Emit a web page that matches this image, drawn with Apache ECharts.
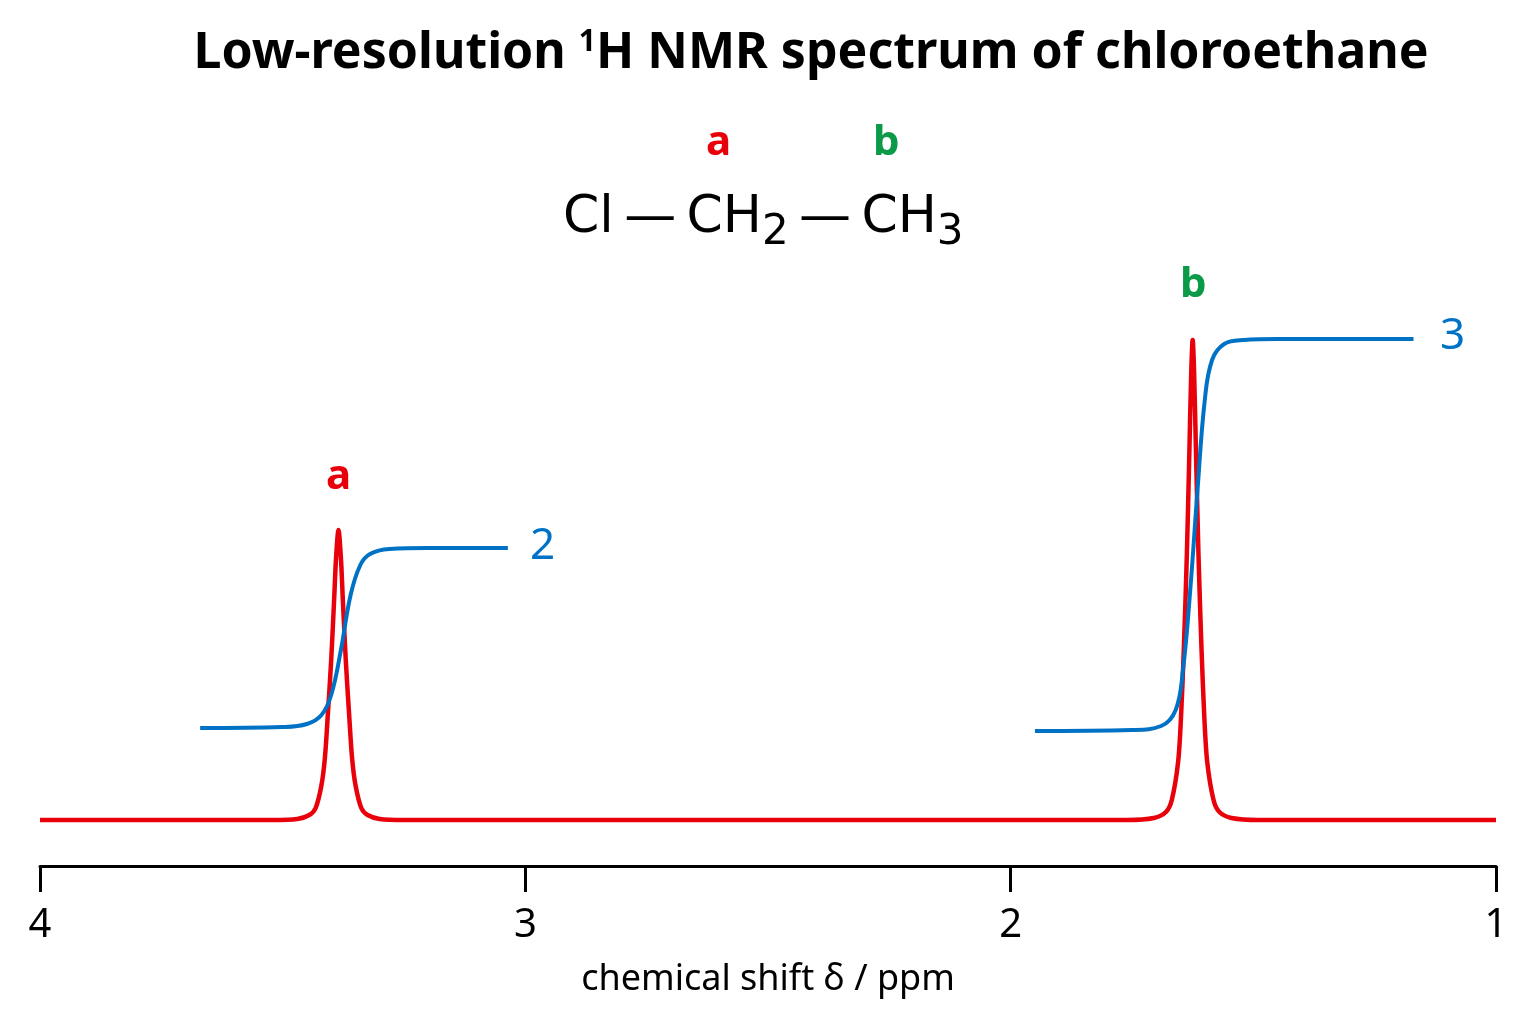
<!DOCTYPE html>
<html><head><meta charset="utf-8">
<script src="https://cdn.jsdelivr.net/npm/echarts@6/dist/echarts.min.js"></script>
<style>html,body{margin:0;padding:0;background:#fff}#c{width:1536px;height:1024px}</style>
</head><body><div id="c"></div>
<script>
// spectrum points: [ppm, intensity]
const spectrum = [
 [4.0,0],[3.52,0],[3.47,1],[3.445,5],[3.432,12],[3.42,35],[3.413,62],[3.407,105],[3.40,160],[3.394,220],[3.39,262],[3.385,290],
 [3.38,262],[3.376,220],[3.37,160],[3.363,105],[3.357,62],[3.35,35],[3.338,12],[3.325,5],[3.30,1],[3.25,0],
 [1.76,0],[1.705,2],[1.68,8],[1.668,20],[1.655,58],[1.649,103],[1.643,174],[1.637,265],[1.632,364],[1.628,447],[1.625,480],
 [1.622,447],[1.618,364],[1.613,265],[1.607,174],[1.601,103],[1.595,58],[1.582,20],[1.57,8],[1.545,2],[1.49,0],[1.0,0]
];
const integralA = [[3.67,92],[3.50,93],[3.45,96],[3.42,105],[3.40,125],[3.38,170],[3.36,225],[3.34,255],[3.32,266],[3.28,271],[3.20,272],[3.036,272]];
const integralB = [[1.95,89],[1.75,90],[1.69,94],[1.66,110],[1.645,150],[1.63,230],[1.615,330],[1.60,420],[1.585,460],[1.56,476],[1.52,480],[1.45,481],[1.17,481]];
const xTicks = [1,2,3,4];
const chart = echarts.init(document.getElementById('c'));
const F = '"Noto Sans", sans-serif';
const D = '"DejaVu Sans", sans-serif';
chart.setOption({
  animation:false,
  title:{text:'Low-resolution {sup|1}H NMR spectrum of chloroethane',left:806,textAlign:'center',top:22,
    textStyle:{fontFamily:F,fontSize:50,fontWeight:'bold',color:'#000',rich:{sup:{fontFamily:F,fontSize:30,fontWeight:'bold',verticalAlign:'top',padding:[0,0,24,0]}}}},
  grid:{left:40,right:40,top:100,bottom:158},
  xAxis:{type:'value',inverse:true,min:1,max:4,interval:1,
    axisLine:{onZero:false,lineStyle:{color:'#000',width:3}},axisTick:{length:26,lineStyle:{color:'#000',width:3}},
    axisLabel:{fontFamily:F,fontSize:40,color:'#000',margin:40,formatter:v=>xTicks.includes(v)?String(v):''},
    splitLine:{show:false},
    name:'chemical shift δ / ppm',nameLocation:'middle',nameGap:96,nameTextStyle:{fontFamily:F,fontSize:36,color:'#000'}},
  yAxis:{type:'value',min:-46,max:720,show:false},
  series:[
    {type:'line',data:spectrum,symbol:'none',smooth:0.3,lineStyle:{color:'#e8000b',width:4.5},z:2},
    {type:'line',data:integralA,symbol:'none',smooth:0.4,lineStyle:{color:'#0072c6',width:4},z:3},
    {type:'line',data:integralB,symbol:'none',smooth:0.4,lineStyle:{color:'#0072c6',width:4},z:3}
  ],
  graphic:[
    {type:'text',left:326,top:456,style:{text:'a',font:'bold 42px '+F,fill:'#e8000b'}},
    {type:'text',left:1180,top:264,style:{text:'b',font:'bold 42px '+F,fill:'#0a9a48'}},
    {type:'text',left:530,top:524,style:{text:'2',font:'44px '+F,fill:'#0072c6'}},
    {type:'text',left:1440,top:314,style:{text:'3',font:'44px '+F,fill:'#0072c6'}},
    {type:'text',left:706,top:122,style:{text:'a',font:'bold 42px '+F,fill:'#e8000b'}},
    {type:'text',left:873,top:122,style:{text:'b',font:'bold 42px '+F,fill:'#0a9a48'}},
    {type:'text',left:563,top:192,style:{text:'Cl\u2009—\u2009CH{s|2}\u2009—\u2009CH{s|3}',font:'52px '+D,fill:'#000',
      rich:{s:{fontFamily:D,fontSize:42,fill:'#000',verticalAlign:'bottom',padding:[30,0,0,0]}}}}
  ]
});
</script></body></html>
